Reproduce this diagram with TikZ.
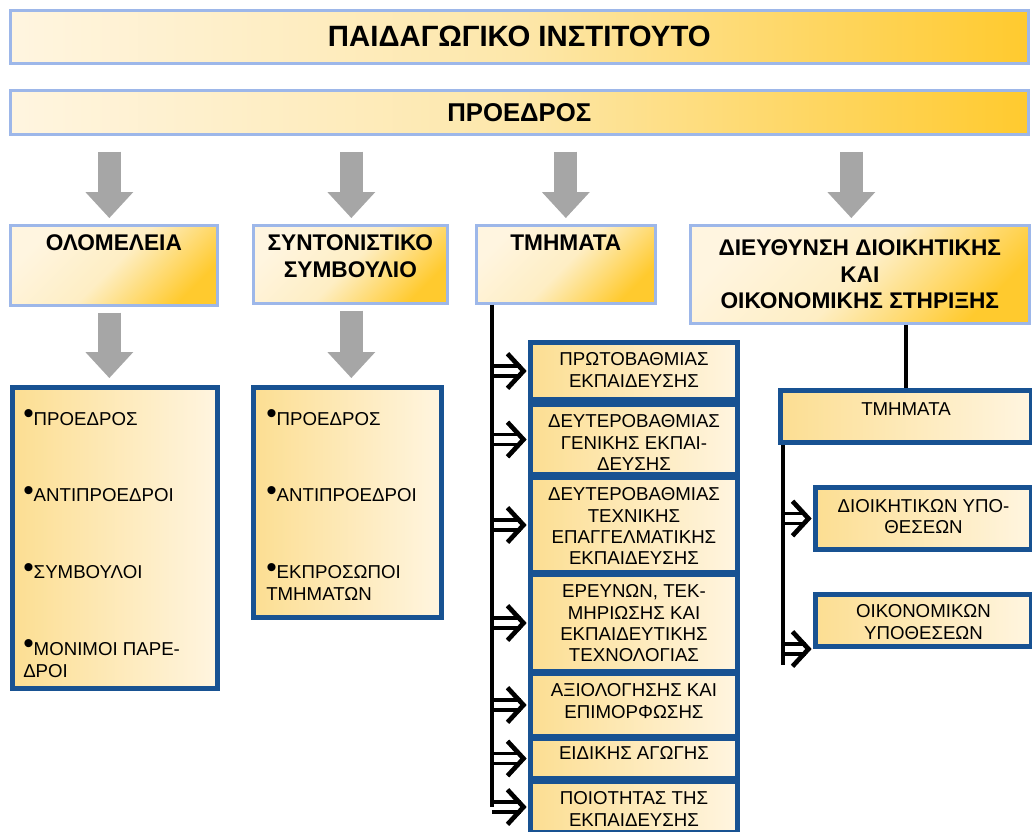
\documentclass[tikz,border=0pt]{standalone}
\usepackage{fontspec}
\setmainfont{Liberation Sans}
\usepackage{graphicx}
\usepackage{tikz}
\usetikzlibrary{arrows.meta}

\definecolor{boxblue}{RGB}{157,183,233}
\definecolor{deepblue}{RGB}{24,82,146}
\definecolor{cream}{RGB}{255,245,224}
\definecolor{pale}{RGB}{253,231,170}
\definecolor{paler}{RGB}{254,238,196}
\definecolor{gold}{RGB}{255,202,46}
\definecolor{palegold}{RGB}{252,222,146}
\definecolor{arrowgray}{RGB}{166,166,166}

\newcommand{\bigfnt}{\fontsize{22}{26}\bfseries\selectfont}
\newcommand{\presfnt}{\fontsize{19.3}{22}\bfseries\selectfont}
\newcommand{\unitfnt}{\fontsize{17}{20}\bfseries\selectfont}
\newcommand{\deptfnt}{\fontsize{14}{16}\selectfont}
\newcommand{\itemfnt}{\fontsize{14}{16.5}\selectfont}
\newcommand{\bul}{\raisebox{1pt}{\scalebox{1.6}{\textbullet}}}

\tikzset{
  headbox/.style={draw=boxblue, line width=2pt, left color=cream, right color=gold, middle color=pale, shading angle=90, inner sep=0pt, anchor=north west},
  unitbox/.style={draw=boxblue, line width=2pt, top color=cream, bottom color=gold, middle color=paler, shading angle=45, inner sep=0pt, anchor=north west},
  listbox/.style={draw=deepblue, line width=3.75pt, left color=palegold, right color=cream, shading angle=90, inner sep=0pt, anchor=north west},
  unitlabel/.style={anchor=north, inner sep=0pt, yshift=-8pt, align=center, font=\unitfnt},
  deptlabel/.style={anchor=north, inner sep=0pt, yshift=-9.5pt, align=center, font=\deptfnt},
  listlabel/.style={anchor=north west, inner sep=0pt, align=left, font=\itemfnt},
  bigarrow/.style={draw=arrowgray, line width=17.25pt, -{Triangle[length=19.5pt, width=36pt, line width=0pt]}},
  trunk/.style={draw=black, line width=3pt},
  deptarrow/.style={draw=black, line width=2.5pt, double, double distance=5pt, shorten >=1pt, -{Straight Barb[length=12pt, width=26pt, line width=3.5pt]}}
}

\begin{document}
\begin{tikzpicture}[x=0.75pt,y=0.75pt,yscale=-1,xscale=1]
\useasboundingbox (0,0) rectangle (1032,832);

%Shape: Rectangle
\node[headbox, minimum width=763.5pt, minimum height=39.75pt, font=\bigfnt] (inst) at (9,9) {ΠΑΙΔΑΓΩΓΙΚΟ ΙΝΣΤΙΤΟΥΤΟ};
%Shape: Rectangle
\node[headbox, minimum width=763.5pt, minimum height=33pt, font=\presfnt] (pres) at (9,89) {ΠΡΟΕΔΡΟΣ};

%Shape: Rectangle
\node[unitbox, minimum width=155.25pt, minimum height=60pt, label={[unitlabel]north:ΟΛΟΜΕΛΕΙΑ}] (olom) at (9,224) {};
%Shape: Rectangle
\node[unitbox, minimum width=145.5pt, minimum height=58.5pt, label={[unitlabel]north:{ΣΥΝΤΟΝΙΣΤΙΚΟ\\ΣΥΜΒΟΥΛΙΟ}}] (synt) at (252,224) {};
%Shape: Rectangle
\node[unitbox, minimum width=134.25pt, minimum height=58.5pt, label={[unitlabel]north:ΤΜΗΜΑΤΑ}] (tmim) at (475,224) {};
%Shape: Rectangle
\node[unitbox, minimum width=254.25pt, minimum height=73.5pt, font=\unitfnt, align=center] (dieu) at (689,224) {ΔΙΕΥΘΥΝΣΗ ΔΙΟΙΚΗΤΙΚΗΣ\\ΚΑΙ\\ΟΙΚΟΝΟΜΙΚΗΣ ΣΤΗΡΙΞΗΣ};

%Shape: Rectangle
\node[listbox, minimum width=153.75pt, minimum height=225.75pt, label={[listlabel, xshift=9.75pt, yshift=-18.5pt]north west:{\bul ΠΡΟΕΔΡΟΣ\\[41pt]\bul ΑΝΤΙΠΡΟΕΔΡΟΙ\\[41pt]\bul ΣΥΜΒΟΥΛΟΙ\\[41pt]\bul ΜΟΝΙΜΟΙ ΠΑΡΕ-\\ΔΡΟΙ}}] (olomlist) at (10,385) {};
%Shape: Rectangle
\node[listbox, minimum width=141pt, minimum height=172.5pt, label={[listlabel, xshift=11.25pt, yshift=-18.5pt]north west:{\bul ΠΡΟΕΔΡΟΣ\\[41pt]\bul ΑΝΤΙΠΡΟΕΔΡΟΙ\\[41pt]\bul ΕΚΠΡΟΣΩΠΟΙ\\ΤΜΗΜΑΤΩΝ}}] (syntlist) at (251,385) {};

%Shape: Rectangle
\node[listbox, minimum width=155.25pt, minimum height=42.75pt, label={[deptlabel]north:{ΠΡΩΤΟΒΑΘΜΙΑΣ\\ΕΚΠΑΙΔΕΥΣΗΣ}}] (d1) at (528,340) {};
\node[listbox, minimum width=155.25pt, minimum height=52.5pt, label={[deptlabel]north:{ΔΕΥΤΕΡΟΒΑΘΜΙΑΣ\\ΓΕΝΙΚΗΣ ΕΚΠΑΙ-\\ΔΕΥΣΗΣ}}] (d2) at (528,402) {};
\node[listbox, minimum width=155.25pt, minimum height=71.25pt, label={[deptlabel]north:{ΔΕΥΤΕΡΟΒΑΘΜΙΑΣ\\ΤΕΧΝΙΚΗΣ\\ΕΠΑΓΓΕΛΜΑΤΙΚΗΣ\\ΕΚΠΑΙΔΕΥΣΗΣ}}] (d3) at (528,475) {};
\node[listbox, minimum width=155.25pt, minimum height=72.75pt, label={[deptlabel]north:{ΕΡΕΥΝΩΝ, ΤΕΚ-\\ΜΗΡΙΩΣΗΣ ΚΑΙ\\ΕΚΠΑΙΔΕΥΤΙΚΗΣ\\ΤΕΧΝΟΛΟΓΙΑΣ}}] (d4) at (528,572) {};
\node[listbox, minimum width=155.25pt, minimum height=47.25pt, label={[deptlabel]north:{ΑΞΙΟΛΟΓΗΣΗΣ ΚΑΙ\\ΕΠΙΜΟΡΦΩΣΗΣ}}] (d5) at (528,671) {};
\node[listbox, minimum width=155.25pt, minimum height=30pt, label={[deptlabel, yshift=1.5pt]north:{ΕΙΔΙΚΗΣ ΑΓΩΓΗΣ}}] (d6) at (528,736) {};
\node[listbox, minimum width=155.25pt, minimum height=38.25pt, label={[deptlabel]north:{ΠΟΙΟΤΗΤΑΣ ΤΗΣ\\ΕΚΠΑΙΔΕΥΣΗΣ}}] (d7) at (528,779) {};

%Shape: Rectangle
\node[listbox, minimum width=188.25pt, minimum height=39pt, label={[deptlabel, yshift=-1pt]north:ΤΜΗΜΑΤΑ}] (tmim2) at (778,388) {};
\node[listbox, minimum width=162pt, minimum height=46.5pt, label={[deptlabel, yshift=-1pt]north:{ΔΙΟΙΚΗΤΙΚΩΝ ΥΠΟ-\\ΘΕΣΕΩΝ}}] (dioik) at (813,485) {};
\node[listbox, minimum width=162pt, minimum height=39pt, label={[deptlabel]north:{ΟΙΚΟΝΟΜΙΚΩΝ\\ΥΠΟΘΕΣΕΩΝ}}] (oikon) at (813,592) {};

%Block Arrows
\draw[bigarrow] ([shift={(-4.5,16)}]olom.north |- pres.south) -- ([shift={(-4.5,-6)}]olom.north);
\draw[bigarrow] ([shift={(1,16)}]synt.north |- pres.south) -- ([shift={(1,-6)}]synt.north);
\draw[bigarrow] ([shift={(0,16)}]tmim.north |- pres.south) -- ([shift={(0,-6)}]tmim.north);
\draw[bigarrow] ([shift={(-8.5,16)}]dieu.north |- pres.south) -- ([shift={(-8.5,-6)}]dieu.north);
\draw[bigarrow] ([shift={(-4.5,6)}]olom.south) -- ([shift={(-4.5,-7)}]olom.south |- olomlist.north);
\draw[bigarrow] ([shift={(1,6)}]synt.south) -- ([shift={(1,-7)}]synt.south |- syntlist.north);

%Straight Lines
\coordinate (trunkm) at ([shift={(17,0)}]tmim.south west);
\foreach \d in {d1,d2,d3,d4,d5,d6,d7}
  \draw[deptarrow] (\d.west -| trunkm) -- (\d.west);
\draw[trunk] (trunkm) -- (trunkm |- d7.west);

%Straight Lines
\draw[trunk] (tmim2.north |- dieu.south) -- (tmim2.north);
\coordinate (trunkr) at ([shift={(5,0)}]tmim2.south west);
\draw[deptarrow] (dioik.west -| trunkr) -- (dioik.west);
\draw[deptarrow] (oikon.south west -| trunkr) -- (oikon.south west);
\draw[trunk] (trunkr) -- ([shift={(0,16)}]trunkr |- oikon.south);

\end{tikzpicture}
\end{document}
